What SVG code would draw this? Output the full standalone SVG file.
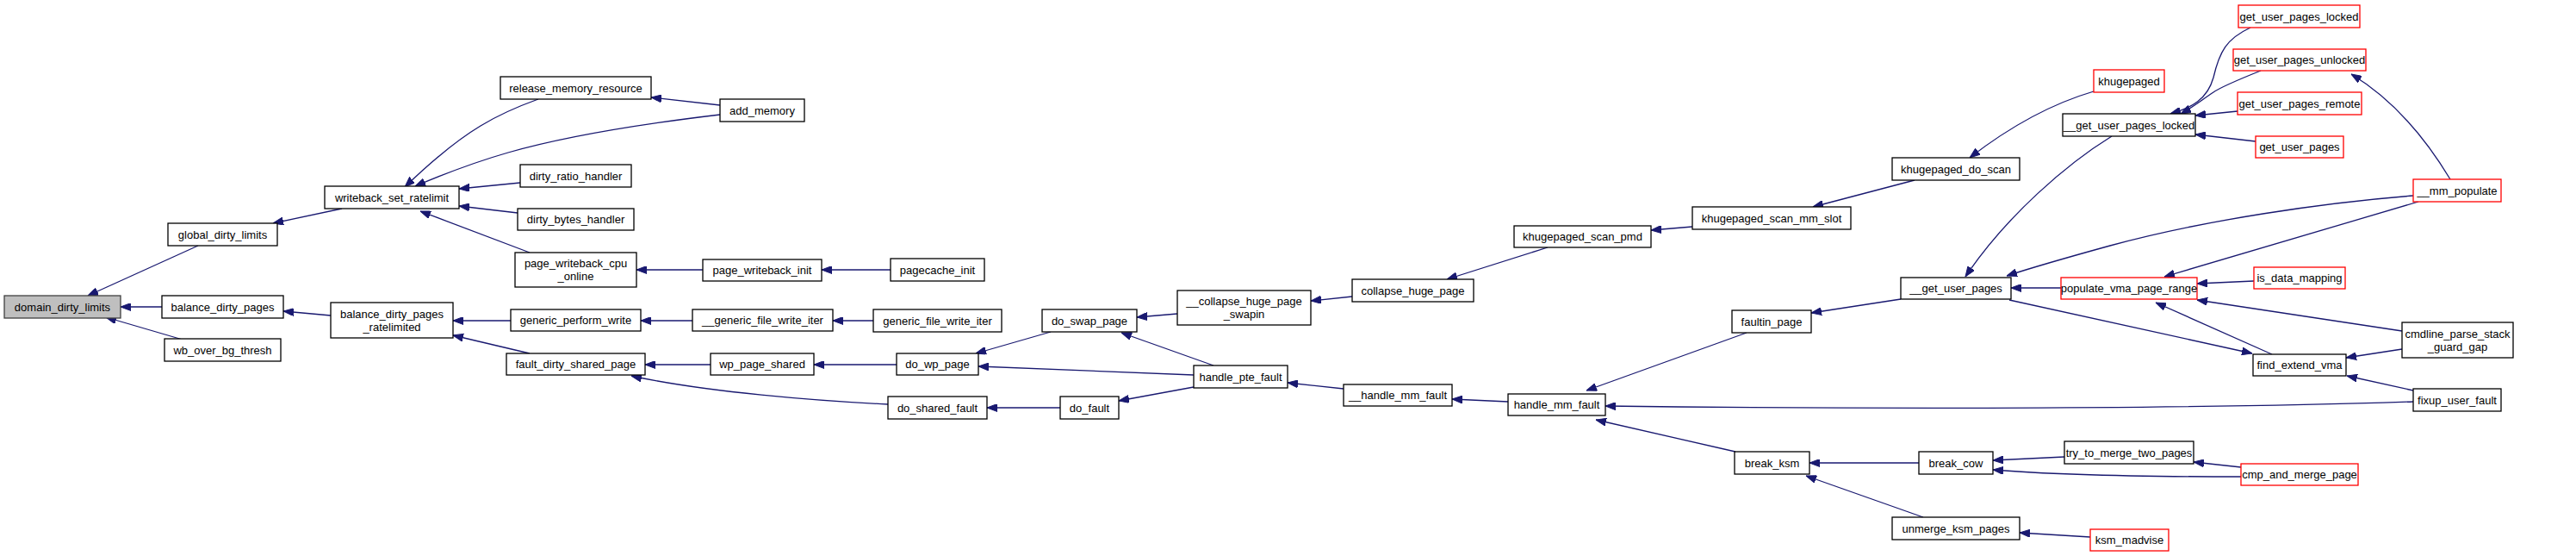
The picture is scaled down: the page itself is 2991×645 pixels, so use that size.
<svg xmlns="http://www.w3.org/2000/svg" width="2991" height="645" viewBox="0 0 2991 645">
<style>
.node rect{fill:#ffffff;stroke:#000000;stroke-width:1.3}
.node.red rect{stroke:#ff0000}
.node.root rect{fill:#bfbfbf;stroke:#404040}
.node text{font-family:"Liberation Sans",Arial,sans-serif;font-size:13px;fill:#000000;text-anchor:middle}
#edges path{fill:none;stroke:#191970;stroke-width:1.3;marker-end:url(#arr)}
</style>
<defs>
<marker id="arr" viewBox="0 0 12 9" refX="12" refY="4.5" markerUnits="userSpaceOnUse" markerWidth="12" markerHeight="9" orient="auto">
<path d="M0,0 L12,4.5 L0,9 z" fill="#191970" stroke="#191970"/>
</marker>
</defs>
<rect width="2991" height="645" fill="#ffffff"/>
<g id="edges">
<path d="M230,285 L102,343"/>
<path d="M188,356 L140,356"/>
<path d="M212,394 L123,368"/>
<path d="M397,242 L317,259"/>
<path d="M384,366 L329,361"/>
<path d="M625,115 C600,124 576,135 558,146 C528,164 498,190 470,217"/>
<path d="M836,133 C760,142 660,157 590,177 C555,187 515,202 482,216"/>
<path d="M604,212 L533,219"/>
<path d="M601,247 L533,239"/>
<path d="M615,293 L488,245"/>
<path d="M836,122 L756,113"/>
<path d="M816,313 L739,313"/>
<path d="M1034,313 L954,313"/>
<path d="M593,372 L526,372"/>
<path d="M615,410 L526,389"/>
<path d="M804,372 L744,372"/>
<path d="M1014,372 L967,372"/>
<path d="M825,423 L749,423"/>
<path d="M1031,469 C950,465 820,455 733,436"/>
<path d="M1041,423 L945,423"/>
<path d="M1220,385 L1133,410"/>
<path d="M1386,435 L1136,425"/>
<path d="M1367,364 L1320,368"/>
<path d="M1409,424 L1302,386"/>
<path d="M1231,473 L1146,473"/>
<path d="M1386,449 L1299,465"/>
<path d="M1570,344 L1522,349"/>
<path d="M1797,287 L1680,324"/>
<path d="M1965,263 L1917,267"/>
<path d="M2223,209 L2105,240"/>
<path d="M2431,106 C2390,118 2340,142 2287,183"/>
<path d="M1560,451 L1495,444"/>
<path d="M1751,466 L1686,463"/>
<path d="M2028,386 L1842,453"/>
<path d="M2802,466 C2500,476 2100,474 1864,471"/>
<path d="M2015,524 L1853,487"/>
<path d="M2207,347 L2103,363"/>
<path d="M2228,537 L2101,537"/>
<path d="M2233,600 L2097,552"/>
<path d="M2397,530 L2314,534"/>
<path d="M2602,553 C2500,553 2400,552 2314,545"/>
<path d="M2427,623 L2345,618"/>
<path d="M2452,158 C2400,190 2330,250 2282,321"/>
<path d="M2393,334 L2335,334"/>
<path d="M2802,227 C2700,235 2560,255 2450,285 C2410,296 2370,307 2330,320"/>
<path d="M2333,348 L2615,410"/>
<path d="M2808,234 L2513,321"/>
<path d="M2617,326 L2551,329"/>
<path d="M2789,384 L2551,348"/>
<path d="M2638,411 L2503,351"/>
<path d="M2789,405 L2724,415"/>
<path d="M2802,453 L2725,436"/>
<path d="M2602,542 L2547,536"/>
<path d="M2613,32 C2585,45 2577,60 2570,90 C2563,115 2545,125 2520,132"/>
<path d="M2625,82 C2600,92 2580,100 2570,107 C2555,117 2545,125 2532,132"/>
<path d="M2598,129 L2549,134"/>
<path d="M2619,164 L2549,156"/>
<path d="M2845,208 C2810,150 2770,110 2730,86"/>
</g>
<g id="n0" class="node root"><rect x="5" y="343" width="135" height="26"/><text x="72.5" y="360.5">domain_dirty_limits</text></g>
<g id="n1" class="node"><rect x="195" y="259" width="127" height="26"/><text x="258.5" y="276.5">global_dirty_limits</text></g>
<g id="n2" class="node"><rect x="188" y="343" width="141" height="26"/><text x="258.5" y="360.5">balance_dirty_pages</text></g>
<g id="n3" class="node"><rect x="191" y="393" width="135" height="26"/><text x="258.5" y="410.5">wb_over_bg_thresh</text></g>
<g id="n4" class="node"><rect x="377" y="216" width="156" height="26"/><text x="455" y="233.5">writeback_set_ratelimit</text></g>
<g id="n5" class="node"><rect x="384" y="351" width="142" height="41"/><text x="455" y="368.5">balance_dirty_pages</text><text x="455" y="383.5">_ratelimited</text></g>
<g id="n6" class="node"><rect x="581" y="89" width="175" height="26"/><text x="668.5" y="106.5">release_memory_resource</text></g>
<g id="n7" class="node"><rect x="836" y="115" width="98" height="26"/><text x="885" y="132.5">add_memory</text></g>
<g id="n8" class="node"><rect x="604" y="191" width="129" height="26"/><text x="668.5" y="208.5">dirty_ratio_handler</text></g>
<g id="n9" class="node"><rect x="601" y="242" width="135" height="25"/><text x="668.5" y="259">dirty_bytes_handler</text></g>
<g id="n10" class="node"><rect x="598" y="293" width="141" height="40"/><text x="668.5" y="310">page_writeback_cpu</text><text x="668.5" y="325">_online</text></g>
<g id="n11" class="node"><rect x="816" y="301" width="138" height="25"/><text x="885" y="318">page_writeback_init</text></g>
<g id="n12" class="node"><rect x="1034" y="300" width="109" height="26"/><text x="1088.5" y="317.5">pagecache_init</text></g>
<g id="n13" class="node"><rect x="593" y="359" width="151" height="25"/><text x="668.5" y="376">generic_perform_write</text></g>
<g id="n14" class="node"><rect x="804" y="359" width="163" height="25"/><text x="885.5" y="376">__generic_file_write_iter</text></g>
<g id="n15" class="node"><rect x="1014" y="359" width="149" height="26"/><text x="1088.5" y="376.5">generic_file_write_iter</text></g>
<g id="n16" class="node"><rect x="588" y="410" width="161" height="25"/><text x="668.5" y="427">fault_dirty_shared_page</text></g>
<g id="n17" class="node"><rect x="825" y="410" width="120" height="25"/><text x="885" y="427">wp_page_shared</text></g>
<g id="n18" class="node"><rect x="1041" y="410" width="95" height="25"/><text x="1088.5" y="427">do_wp_page</text></g>
<g id="n19" class="node"><rect x="1210" y="359" width="110" height="26"/><text x="1265" y="376.5">do_swap_page</text></g>
<g id="n20" class="node"><rect x="1367" y="337" width="155" height="40"/><text x="1444.5" y="354">__collapse_huge_page</text><text x="1444.5" y="369">_swapin</text></g>
<g id="n21" class="node"><rect x="1386" y="424" width="109" height="26"/><text x="1440.5" y="441.5">handle_pte_fault</text></g>
<g id="n22" class="node"><rect x="1031" y="460" width="115" height="26"/><text x="1088.5" y="477.5">do_shared_fault</text></g>
<g id="n23" class="node"><rect x="1231" y="460" width="68" height="26"/><text x="1265" y="477.5">do_fault</text></g>
<g id="n24" class="node"><rect x="1570" y="324" width="141" height="26"/><text x="1640.5" y="341.5">collapse_huge_page</text></g>
<g id="n25" class="node"><rect x="1758" y="262" width="159" height="25"/><text x="1837.5" y="279">khugepaged_scan_pmd</text></g>
<g id="n26" class="node"><rect x="1965" y="240" width="184" height="26"/><text x="2057" y="257.5">khugepaged_scan_mm_slot</text></g>
<g id="n27" class="node"><rect x="2197" y="183" width="148" height="26"/><text x="2271" y="200.5">khugepaged_do_scan</text></g>
<g id="n28" class="node red"><rect x="2431" y="81" width="82" height="26"/><text x="2472" y="98.5">khugepaged</text></g>
<g id="n29" class="node"><rect x="1560" y="446" width="126" height="25"/><text x="1623" y="463">__handle_mm_fault</text></g>
<g id="n30" class="node"><rect x="1751" y="457" width="113" height="25"/><text x="1807.5" y="474">handle_mm_fault</text></g>
<g id="n31" class="node"><rect x="2011" y="360" width="92" height="26"/><text x="2057" y="377.5">faultin_page</text></g>
<g id="n32" class="node"><rect x="2014" y="524" width="87" height="26"/><text x="2057.5" y="541.5">break_ksm</text></g>
<g id="n33" class="node"><rect x="2207" y="322" width="128" height="25"/><text x="2271" y="339">__get_user_pages</text></g>
<g id="n34" class="node"><rect x="2228" y="524" width="86" height="26"/><text x="2271" y="541.5">break_cow</text></g>
<g id="n35" class="node"><rect x="2197" y="600" width="148" height="26"/><text x="2271" y="617.5">unmerge_ksm_pages</text></g>
<g id="n36" class="node"><rect x="2395" y="132" width="154" height="26"/><text x="2472" y="149.5">__get_user_pages_locked</text></g>
<g id="n37" class="node red"><rect x="2393" y="322" width="158" height="25"/><text x="2472" y="339">populate_vma_page_range</text></g>
<g id="n38" class="node"><rect x="2397" y="512" width="150" height="26"/><text x="2472" y="529.5">try_to_merge_two_pages</text></g>
<g id="n39" class="node red"><rect x="2599" y="6" width="141" height="26"/><text x="2669.5" y="23.5">get_user_pages_locked</text></g>
<g id="n40" class="node red"><rect x="2593" y="57" width="154" height="25"/><text x="2670" y="74">get_user_pages_unlocked</text></g>
<g id="n41" class="node red"><rect x="2598" y="107" width="144" height="26"/><text x="2670" y="124.5">get_user_pages_remote</text></g>
<g id="n42" class="node red"><rect x="2619" y="158" width="102" height="25"/><text x="2670" y="175">get_user_pages</text></g>
<g id="n43" class="node red"><rect x="2802" y="208" width="102" height="26"/><text x="2853" y="225.5">__mm_populate</text></g>
<g id="n44" class="node red"><rect x="2617" y="310" width="106" height="25"/><text x="2670" y="327">is_data_mapping</text></g>
<g id="n45" class="node"><rect x="2789" y="374" width="129" height="41"/><text x="2853.5" y="391.5">cmdline_parse_stack</text><text x="2853.5" y="406.5">_guard_gap</text></g>
<g id="n46" class="node"><rect x="2616" y="411" width="108" height="25"/><text x="2670" y="428">find_extend_vma</text></g>
<g id="n47" class="node"><rect x="2802" y="451" width="102" height="26"/><text x="2853" y="468.5">fixup_user_fault</text></g>
<g id="n48" class="node red"><rect x="2602" y="538" width="136" height="25"/><text x="2670" y="555">cmp_and_merge_page</text></g>
<g id="n49" class="node red"><rect x="2427" y="614" width="91" height="25"/><text x="2472.5" y="631">ksm_madvise</text></g>
</svg>
